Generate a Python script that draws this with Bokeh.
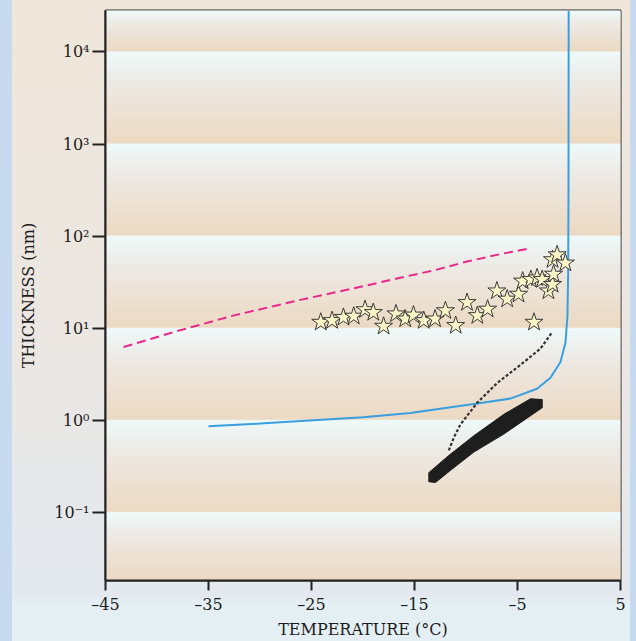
import numpy as np
from bokeh.plotting import figure
from bokeh.models import FixedTicker, CustomJSTickFormatter, ColumnDataSource
from bokeh.embed import file_html
from bokeh.resources import INLINE

# Measured film thickness (nm) against temperature (degrees C)
star_temp = [-24.1, -23.0, -21.9, -20.9, -19.8, -19.0, -18.0, -16.8, -15.9, -15.1,
             -14.1, -13.0, -12.0, -11.0, -9.9, -8.9, -7.9, -7.0, -6.0, -4.9,
             -4.5, -3.7, -3.4, -3.1, -2.6, -2.0, -1.6, -1.5, -1.6, -1.15, -0.35]
star_thick = [11.6, 12.1, 13.1, 13.5, 15.9, 14.8, 10.5, 14.3, 12.6, 13.9,
              12.1, 12.6, 15.5, 10.7, 19.0, 13.7, 16.1, 25.4, 20.7, 23.4,
              32.5, 33.8, 11.6, 35.2, 33.8, 25.4, 29.9, 38.6, 55.5, 62.7, 51.0]

# Model curve (solid blue)
blue_temp = [-35, -30, -26, -20, -15.4, -12, -8.9, -5.7, -3.1, -1.8,
             -0.83, -0.34, -0.15, -0.08, -0.05, -0.03]
blue_thick = [0.86, 0.92, 0.98, 1.08, 1.2, 1.36, 1.52, 1.72, 2.2, 2.9,
              4.3, 7.0, 13.7, 40, 300, 28000]

# Model curve (dashed pink)
pink_temp = [-43.25, -38.2, -32.6, -26.1, -20, -16.4, -12.9, -9.9, -6.6, -3.7]
pink_thick = [6.25, 9.2, 13.7, 20.3, 28.5, 35.3, 43, 53, 64, 74]

# Model curve (dotted black)
dot_temp = [-11.67, -11.18, -10.53, -8.91, -6.97, -4.71, -2.77, -1.63]
dot_thick = [0.47, 0.65, 0.905, 1.55, 2.54, 4.0, 6.0, 9.06]

# Measured range (black band): lower and upper edges
band_low_temp = [-13.61, -12.96, -11.50, -9.24, -6.33, -2.60]
band_low_thick = [0.215, 0.211, 0.286, 0.451, 0.708, 1.37]
band_up_temp = [-2.60, -3.74, -6.33, -9.24, -11.67, -13.61]
band_up_thick = [1.68, 1.71, 1.16, 0.679, 0.415, 0.27]

x_ticks = [-45, -35, -25, -15, -5, 5]
y_ticks = [1e-1, 1e0, 1e1, 1e2, 1e3, 1e4]

X_RANGE = (-45, 5)
Y_RANGE = (10 ** -1.74, 10 ** 4.45)

FONT = "DejaVu Serif"
INK = "#1c1c1c"

p = figure(width=636, height=641, x_range=X_RANGE, y_range=Y_RANGE,
           y_axis_type="log", output_backend="svg", toolbar_location=None,
           min_border_left=105, min_border_right=16, min_border_top=10,
           min_border_bottom=54)

p.border_fill_alpha = 0
p.styles = {
    "background": (
        "linear-gradient(to right, #c6d9ef 0px, #c6d9ef 12px, transparent 12px, "
        "transparent 630px, #c6d9ef 630px), "
        "linear-gradient(to bottom, #f0e6da 0%, #ece7e2 50%, #e3e9ef 93%, "
        "#e4eff3 94%, #e4eff3 100%)"
    )
}
p.background_fill_color = "#ece4da"
p.outline_line_color = "#222222"
p.outline_line_width = 2
p.grid.visible = False

# Shaded decade bands: pale at the top of each band, tan at the bottom
def hex_to_rgb(h):
    h = h.lstrip("#")
    return np.array([int(h[i:i + 2], 16) for i in (0, 2, 4)], dtype=float)

stops = [(0.0, hex_to_rgb("#eefafa")), (0.35, hex_to_rgb("#ede9e4")),
         (1.0, hex_to_rgb("#ecd9c2"))]

def shade(t):
    for (t0, c0), (t1, c1) in zip(stops[:-1], stops[1:]):
        if t <= t1:
            f = (t - t0) / (t1 - t0)
            c = c0 + (c1 - c0) * f
            return "#%02x%02x%02x" % tuple(int(round(v)) for v in c)
    return "#%02x%02x%02x" % tuple(int(v) for v in stops[-1][1])

edges = [np.log10(Y_RANGE[1])] + [4, 3, 2, 1, 0, -1] + [np.log10(Y_RANGE[0])]
qt, qb, qc = [], [], []
n_strips = 40
for top, bot in zip(edges[:-1], edges[1:]):
    lv = np.linspace(top, bot, n_strips + 1)
    for i in range(n_strips):
        qt.append(10 ** lv[i])
        qb.append(10 ** lv[i + 1])
        qc.append(shade((i + 0.5) / n_strips))
p.quad(left=X_RANGE[0], right=X_RANGE[1], top=qt, bottom=qb,
       fill_color=qc, line_color=qc, line_width=1)

# Curves
p.line(pink_temp, pink_thick, line_color="#e8298c", line_width=2,
       line_dash="9 5")
p.line(blue_temp, blue_thick, line_color="#3a9fe0", line_width=2)
p.line(dot_temp, dot_thick, line_color="#333333", line_width=2.2,
       line_dash="3 2")

# Measured band
p.patch(band_low_temp + band_up_temp, band_low_thick + band_up_thick,
        fill_color="#1e1e1e", line_color="#1e1e1e", line_width=1,
        line_join="round")

# Data points
src = ColumnDataSource(dict(t=star_temp, h=star_thick))
p.scatter("t", "h", source=src, marker="star", size=19,
          fill_color="#faf5c6", line_color="#3a3a3a", line_width=1)

# Axes
p.xaxis.ticker = FixedTicker(ticks=x_ticks, minor_ticks=[])
p.yaxis.ticker = FixedTicker(ticks=y_ticks, minor_ticks=[])
p.xaxis.formatter = CustomJSTickFormatter(
    code="return tick < 0 ? '\u2013' + Math.abs(tick) : String(tick);")
p.yaxis.formatter = CustomJSTickFormatter(code="""
const sup = {'-': '\u207b', '0': '\u2070', '1': '\u00b9', '2': '\u00b2',
             '3': '\u00b3', '4': '\u2074', '5': '\u2075'};
const e = Math.round(Math.log10(tick));
return '10' + String(e).split('').map(c => sup[c]).join('');
""")

for ax in (p.xaxis, p.yaxis):
    ax.axis_line_color = "#222222"
    ax.axis_line_width = 2
    ax.major_tick_line_color = "#222222"
    ax.major_tick_line_width = 2
    ax.major_tick_in = 0
    ax.minor_tick_line_color = None
    ax.major_label_text_font = FONT
    ax.major_label_text_font_size = "16px"
    ax.major_label_text_color = INK
    ax.axis_label_text_font = FONT
    ax.axis_label_text_font_size = "16px"
    ax.axis_label_text_font_style = "normal"
    ax.axis_label_text_color = INK

p.xaxis.major_tick_out = 10
p.xaxis.major_label_standoff = 4
p.xaxis.axis_label = "TEMPERATURE (\u00b0C)"
p.xaxis.axis_label_standoff = 3

p.yaxis.major_tick_out = 13
p.yaxis.major_label_standoff = 3
p.yaxis.axis_label = "THICKNESS (nm)"
p.yaxis.axis_label_standoff = 13

open("out.html", "w").write(file_html(p, INLINE))
